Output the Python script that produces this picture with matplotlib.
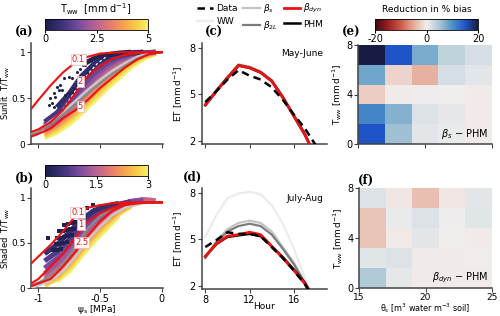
import numpy as np
import matplotlib
matplotlib.use("Agg")
import matplotlib.pyplot as plt
from matplotlib.colors import LinearSegmentedColormap, Normalize
from matplotlib.cm import ScalarMappable

plt.rcParams['font.family'] = ['DejaVu Sans']
plt.rcParams['font.size'] = 7
plt.rcParams['mathtext.fontset'] = 'dejavusans'

# ---------------- data: panels (a) and (b) ----------------
# model curves on a shared water potential grid
psi_curve = [-1.06, -1.0, -0.9, -0.8, -0.7, -0.6, -0.5, -0.4, -0.3, -0.2, -0.1, 0.0]

a_red_01 = [0.38, 0.48, 0.64, 0.78, 0.89, 0.95, 0.985, 0.995, 1.0, 1.0, 1.0, 1.0]
a_red_2 = [0.13, 0.16, 0.24, 0.37, 0.55, 0.74, 0.85, 0.93, 0.97, 0.99, 1.0, 1.0]
a_red_5 = [0.08, 0.11, 0.17, 0.28, 0.37, 0.48, 0.61, 0.72, 0.83, 0.92, 0.98, 1.0]
a_gray_light = [0.12, 0.15, 0.25, 0.35, 0.47, 0.59, 0.70, 0.80, 0.88, 0.95, 0.99, 1.0]
a_gray_dark = [0.10, 0.13, 0.22, 0.32, 0.43, 0.55, 0.66, 0.76, 0.85, 0.93, 0.98, 1.0]

b_red_01 = [0.27, 0.35, 0.48, 0.63, 0.80, 0.89, 0.92, 0.94, 0.95, 0.95, 0.95, 0.95]
b_red_1 = [0.05, 0.10, 0.24, 0.38, 0.56, 0.74, 0.83, 0.89, 0.93, 0.945, 0.95, 0.95]
b_red_25 = [0.02, 0.05, 0.10, 0.24, 0.40, 0.58, 0.74, 0.86, 0.92, 0.94, 0.95, 0.95]
b_gray_dark = [0.03, 0.06, 0.13, 0.27, 0.46, 0.66, 0.80, 0.88, 0.92, 0.94, 0.95, 0.95]
b_gray_light = [0.0, 0.03, 0.08, 0.19, 0.35, 0.53, 0.68, 0.81, 0.89, 0.93, 0.95, 0.95]

# observed T/Tww, binned by Tww (rows) on a psi grid (columns)
psi_obs = [-0.95, -0.85, -0.75, -0.65, -0.55, -0.45, -0.35, -0.25, -0.15, -0.05]
nan = np.nan

a_tww_levels = [5.0, 4.5, 4.0, 3.5, 3.0, 2.5, 2.0, 1.5, 1.0, 0.6, 0.2]
a_ratio = [
    [0.07, 0.13, 0.22, 0.34, 0.47, 0.60, 0.72, 0.84, 0.93, 0.985],
    [0.09, 0.16, 0.26, 0.38, 0.51, 0.64, 0.76, 0.87, 0.95, 0.99],
    [0.11, 0.19, 0.29, 0.41, 0.55, 0.68, 0.80, 0.90, 0.96, 0.995],
    [0.13, 0.21, 0.32, 0.45, 0.59, 0.72, 0.83, 0.92, 0.97, 1.0],
    [0.15, 0.23, 0.35, 0.49, 0.63, 0.76, 0.86, 0.94, 0.98, 1.0],
    [0.17, 0.25, 0.38, 0.53, 0.67, 0.80, 0.89, 0.95, 0.99, 1.0],
    [0.19, 0.27, 0.41, 0.57, 0.72, 0.84, 0.92, 0.97, 0.99, 1.0],
    [0.21, 0.30, 0.45, 0.62, 0.77, 0.87, 0.94, 0.98, 0.995, 1.0],
    [0.24, 0.34, 0.50, 0.68, 0.82, 0.91, 0.96, 0.985, 1.0, nan],
    [nan, 0.40, 0.55, 0.74, 0.87, 0.94, 0.98, 0.995, 1.0, nan],
    [nan, nan, nan, 0.86, 0.93, 0.97, 0.99, 1.0, nan, nan],
]
# scattered low-Tww days in (a)
a_dots_psi = [-0.790, -0.756, -0.729, -0.849, -0.823, -0.836, -0.809, -0.876, -0.863, -0.903,
              -0.890, -0.917, -0.876, -0.782, -0.756, -0.729, -0.715, -0.688, -0.661, -0.635,
              -0.607, -0.69, -0.66, -0.62, -0.58]
a_dots_r = [0.714, 0.732, 0.714, 0.623, 0.641, 0.587, 0.587, 0.551, 0.514, 0.496,
            0.442, 0.424, 0.406, 0.533, 0.551, 0.569, 0.605, 0.641, 0.677, 0.732,
            0.768, 0.78, 0.82, 0.86, 0.90]
a_white_psi = [-0.80, -0.72, -0.65, -0.58, -0.52, -0.45]
a_white_r = [0.38, 0.54, 0.68, 0.79, 0.88, 0.95]

b_tww_levels = [3.0, 2.8, 2.5, 2.2, 1.9, 1.6, 1.3, 1.0, 0.7, 0.4]
b_ratio = [
    [nan, 0.08, 0.19, 0.36, 0.52, 0.66, 0.80, nan, nan, nan],
    [0.03, 0.10, 0.22, 0.39, 0.55, 0.69, 0.82, 0.91, nan, nan],
    [0.05, 0.12, 0.25, 0.42, 0.58, 0.72, 0.84, 0.92, 0.96, nan],
    [0.07, 0.15, 0.28, 0.45, 0.61, 0.75, 0.86, 0.94, 0.97, nan],
    [0.09, 0.18, 0.32, 0.49, 0.65, 0.78, 0.88, 0.95, 0.98, 0.97],
    [0.12, 0.22, 0.36, 0.53, 0.69, 0.81, 0.90, 0.96, 0.98, 0.97],
    [0.16, 0.27, 0.41, 0.58, 0.73, 0.84, 0.91, 0.96, 0.98, nan],
    [0.22, 0.33, 0.47, 0.64, 0.78, 0.87, 0.92, 0.96, 0.97, nan],
    [0.30, 0.40, 0.54, 0.70, 0.82, 0.89, 0.93, 0.96, nan, nan],
    [0.38, 0.48, 0.62, 0.76, 0.86, 0.91, 0.94, nan, nan, nan],
]
b_dots_psi = [-0.92, -0.79, -0.76, -0.73, -0.70, -0.83, -0.80, -0.77, -0.74, -0.71,
              -0.85, -0.82, -0.79, -0.76, -0.73, -0.86, -0.83, -0.80, -0.77, -0.88,
              -0.85, -0.82, -0.61, -0.66, -0.56]
b_dots_r = [0.55, 0.70, 0.71, 0.72, 0.73, 0.63, 0.63, 0.64, 0.65, 0.66,
            0.56, 0.56, 0.57, 0.58, 0.59, 0.49, 0.49, 0.50, 0.51, 0.42,
            0.42, 0.43, 0.89, 0.84, 0.92]

# ---------------- data: panels (c) and (d) ----------------
hours = [8, 9, 10, 11, 12, 13, 14, 15, 16, 17, 18]

c_data = [4.5, 5.2, 5.95, 6.55, 6.2, 5.95, 5.45, 4.65, 3.7, 2.8, 1.7]
c_ww = [4.45, 5.3, 6.15, 6.95, 6.8, 6.5, 5.95, 4.9, 3.7, 2.5, 1.0]
c_bs = [4.4, 5.25, 6.1, 6.9, 6.75, 6.45, 5.9, 4.85, 3.65, 2.45, 0.95]
c_b2l = [4.35, 5.25, 6.1, 6.9, 6.75, 6.45, 5.9, 4.85, 3.65, 2.45, 0.95]
c_dyn = [4.3, 5.2, 6.05, 6.85, 6.7, 6.4, 5.85, 4.8, 3.6, 2.4, 0.9]
c_phm = [4.3, 5.2, 6.05, 6.85, 6.7, 6.4, 5.85, 4.8, 3.6, 2.4, 0.9]

d_data = [4.5, 4.95, 5.45, 5.35, 5.35, 5.2, 4.5, 3.8, 3.0, 2.1, 1.0]
d_ww = [5.15, 6.55, 7.65, 7.95, 8.05, 7.9, 7.2, 6.0, 4.4, 2.5, 0.6]
d_bs = [3.85, 4.9, 5.65, 6.05, 6.2, 6.05, 5.5, 4.5, 3.5, 2.2, 0.8]
d_b2l = [3.8, 4.8, 5.5, 5.85, 6.0, 5.85, 5.3, 4.4, 3.4, 2.2, 0.8]
d_dyn = [3.9, 4.7, 5.2, 5.3, 5.45, 5.3, 4.55, 3.8, 3.0, 2.15, 1.0]
d_phm = [3.9, 4.7, 5.15, 5.25, 5.35, 5.2, 4.55, 3.85, 3.05, 2.2, 1.0]

# ---------------- data: panels (e) and (f) ----------------
theta_edges = [15, 17, 19, 21, 23, 25]
tww_edges = [0, 1.6, 3.2, 4.8, 6.4, 8]
# rows bottom -> top
e_bias = [
    [15, 5.5, 1.0, 0.5, -0.3],
    [11, 7, 1.5, 0.8, -0.3],
    [-2.5, -0.3, 0.3, 0.0, -0.3],
    [8, -2, -4.5, 2, 1],
    [20, 15, 7.5, 3.5, 2],
]
f_bias = [
    [4.5, 0.8, -0.3, -0.3, -0.2],
    [1.2, 1.5, -0.2, -0.2, -0.1],
    [-3, -0.4, 1.0, -0.1, -0.2],
    [-3, 0.5, 1.5, 0.2, 1.2],
    [1.5, -0.5, -3.5, -0.5, 1.0],
]

# ---------------- styling ----------------
W, H = 500, 316
fig = plt.figure(figsize=(W / 100, H / 100), dpi=100)


def px_axes(x0, y0, x1, y1):
    return fig.add_axes([x0 / W, 1 - y1 / H, (x1 - x0) / W, (y1 - y0) / H])


thermal = LinearSegmentedColormap.from_list(
    'tww', ['#1b1c48', '#2f2c68', '#4f3a88', '#7a4c9e', '#a65b9a', '#cc6c86',
            '#ea8466', '#f6a64c', '#f7cc4a', '#f3f166'])
balance = LinearSegmentedColormap.from_list(
    'bal', ['#3c0911', '#9a1f22', '#cc5a48', '#e4ab98', '#f1eeed',
            '#a9c6d5', '#4d92c6', '#1f55cc', '#181c43'])

serif_bold = dict(family='DejaVu Serif', weight='bold', fontsize=8.5)


def style(ax):
    for s in ['top', 'right']:
        ax.spines[s].set_visible(False)
    for s in ['left', 'bottom']:
        ax.spines[s].set_color('#444444')
        ax.spines[s].set_linewidth(1.1)
    ax.tick_params(length=3, width=0.8, pad=1.5, labelsize=7, color='#444444')


def ratio_panel(ax, levels, table, norm, curves, grays, labels):
    for lev, row in zip(levels, table):
        ax.plot(psi_obs, row, color=thermal(norm(lev)), lw=3.6,
                solid_capstyle='butt', zorder=2)
    g_light, g_dark = grays
    ax.plot(psi_curve, g_light, color='#c8c8c8', lw=1.8, zorder=3)
    ax.plot(psi_curve, g_dark, color='#8a8a8a', lw=1.6, zorder=3)
    for c in curves:
        ax.plot(psi_curve, c, color='#ee1111', lw=1.5, zorder=4)
    for txt, x, y in labels:
        ax.text(x, y, txt, color='#ee1111', fontsize=6, ha='center', va='center', zorder=6,
                bbox=dict(boxstyle='square,pad=0.12', fc='white', ec='#f3b0b0', lw=0.5))
    ax.set_xlim(-1.06, 0.01)
    ax.set_xticks([-1, -0.5, 0])
    style(ax)
    ax.tick_params(axis='y', pad=1, labelsize=6.5)


# (a)
ax_a = px_axes(31, 43, 163, 144)
norm_a = Normalize(0, 5)
ratio_panel(ax_a, a_tww_levels, a_ratio, norm_a,
            [a_red_01, a_red_2, a_red_5], (a_gray_light, a_gray_dark),
            [('0.1', -0.675, 0.92), ('2', -0.66, 0.68), ('5', -0.66, 0.41)])
ax_a.scatter(a_dots_psi, a_dots_r, s=5, color=thermal(norm_a(0.2)), lw=0, zorder=3)
ax_a.plot(a_white_psi, a_white_r, color='white', lw=0.9, ls=(0, (2, 2)), zorder=3)
ax_a.set_ylim(0, 1.1)
ax_a.set_yticks([0, 0.5, 1])
ax_a.set_yticklabels(['0', '0.5', '1'])
ax_a.set_xticklabels([])
ax_a.set_ylabel('Sunlit  T/T$_{\\rm ww}$', fontsize=6)
ax_a.yaxis.set_label_coords(-0.145, 0.5)
fig.text(15 / W, 1 - 32 / H, '(a)', va='center', **serif_bold)

cax_a = px_axes(45, 19, 148, 30)
cb = fig.colorbar(ScalarMappable(norm=norm_a, cmap=thermal), cax=cax_a, orientation='horizontal')
cb.set_ticks([0, 2.5, 5])
cb.set_ticklabels(['0', '2.5', '5'])
cb.outline.set_linewidth(0.6)
cax_a.tick_params(length=2, pad=1, labelsize=7)
fig.text(96 / W, 1 - 9 / H, 'T$_{\\rm ww}$  [mm d$^{-1}$]', ha='center', va='center', fontsize=7)

# (b)
ax_b = px_axes(31, 188, 163, 288)
norm_b = Normalize(0, 3)
ratio_panel(ax_b, b_tww_levels, b_ratio, norm_b,
            [b_red_01, b_red_1, b_red_25], (b_gray_light, b_gray_dark),
            [('0.1', -0.68, 0.84), ('1', -0.655, 0.71), ('2.5', -0.65, 0.51)])
ax_b.scatter(b_dots_psi, b_dots_r, s=6, marker='s', color=thermal(norm_b(0.1)), lw=0, zorder=3)
ax_b.set_ylim(0, 1.11)
ax_b.set_yticks([0, 0.5, 1])
ax_b.set_yticklabels(['0', '0.5', '1'])
ax_b.set_xticklabels(['-1', '-0.5', '0'])
ax_b.tick_params(axis='x', pad=1)
ax_b.set_xlabel('ψ$_{\\rm s}$ [MPa]', fontsize=6.5)
ax_b.xaxis.set_label_coords(0.5, -0.155)
ax_b.set_ylabel('Shaded  T/T$_{\\rm ww}$', fontsize=6)
ax_b.yaxis.set_label_coords(-0.145, 0.5)
fig.text(15 / W, 1 - 178 / H, '(b)', va='center', **serif_bold)

cax_b = px_axes(45, 165, 148, 176)
cb = fig.colorbar(ScalarMappable(norm=norm_b, cmap=thermal), cax=cax_b, orientation='horizontal')
cb.set_ticks([0, 1.5, 3])
cb.set_ticklabels(['0', '1.5', '3'])
cb.outline.set_linewidth(0.6)
cax_b.tick_params(length=2, pad=1, labelsize=7)


# (c), (d)
def et_panel(ax, data, ww, bs, b2l, dyn, phm):
    ax.plot(hours, ww, color='#ececec', lw=1.6, label='WW', zorder=2)
    ax.plot(hours, bs, color='#c4c4c4', lw=1.6, label='$\\beta_s$', zorder=3)
    ax.plot(hours, b2l, color='#7d7d7d', lw=1.6, label='$\\beta_{2L}$', zorder=3)
    ax.plot(hours, phm, color='black', lw=1.8, label='PHM', zorder=4)
    ax.plot(hours, dyn, color='#ee1111', lw=2.0, label='$\\beta_{dyn}$', zorder=5)
    ax.plot(hours, data, color='black', lw=1.8, ls=(0, (3, 2)), label='Data', zorder=6)
    ax.set_xlim(7.7, 19.0)
    ax.set_ylim(1.8, 8.3)
    ax.set_xticks([8, 12, 16])
    ax.set_yticks([2, 5, 8])
    ax.set_ylabel('ET $\\left[\\mathrm{mm\\,d^{-1}}\\right]$', fontsize=6.5)
    ax.yaxis.set_label_coords(-0.135, 0.5)
    style(ax)


ax_c = px_axes(202, 43, 327, 144)
et_panel(ax_c, c_data, c_ww, c_bs, c_b2l, c_dyn, c_phm)
ax_c.set_xticklabels([])
ax_c.text(0.97, 0.9, 'May-June', transform=ax_c.transAxes, ha='right', va='center', fontsize=6.5)
fig.text(205 / W, 1 - 32 / H, '(c)', va='center', **serif_bold)

ax_d = px_axes(202, 188, 327, 289)
et_panel(ax_d, d_data, d_ww, d_bs, d_b2l, d_dyn, d_phm)
ax_d.tick_params(axis='x', pad=1)
ax_d.set_xlabel('Hour', fontsize=6.5)
ax_d.xaxis.set_label_coords(0.5, -0.13)
ax_d.text(0.97, 0.9, 'July-Aug', transform=ax_d.transAxes, ha='right', va='center', fontsize=6.5)
fig.text(183 / W, 1 - 177 / H, '(d)', va='center', **serif_bold)

handles, labels = ax_c.get_legend_handles_labels()
order = ['Data', 'WW', '$\\beta_s$', '$\\beta_{2L}$', '$\\beta_{dyn}$', 'PHM']
hmap = dict(zip(labels, handles))
fig.legend([hmap[k] for k in order], order, ncol=3, loc='center',
           bbox_to_anchor=(260 / W, 1 - 17 / H), frameon=False, fontsize=6.5,
           handlelength=1.8, handletextpad=0.4, columnspacing=0.6, labelspacing=0.45,
           borderpad=0.1)

# (e), (f)
norm_e = Normalize(-20, 20)


def bias_panel(ax, values, note):
    ax.pcolormesh(theta_edges, tww_edges, np.array(values), cmap=balance, norm=norm_e)
    ax.set_xlim(15, 25)
    ax.set_ylim(0, 8)
    ax.set_xticks([15, 20, 25])
    ax.set_yticks([0, 4, 8])
    ax.set_ylabel('T$_{\\rm ww}$ $\\left[\\mathrm{mm\\,d^{-1}}\\right]$', fontsize=6.5)
    ax.yaxis.set_label_coords(-0.105, 0.5)
    ax.text(0.97, 0.1, note, transform=ax.transAxes, ha='right', va='center', fontsize=7)
    style(ax)
    ax.tick_params(axis='y', pad=1)


ax_e = px_axes(358, 45, 492, 144)
bias_panel(ax_e, e_bias, '$\\beta_s$ $-$ PHM')
ax_e.set_xticklabels([])
fig.text(342 / W, 1 - 32 / H, '(e)', va='center', **serif_bold)

ax_f = px_axes(359, 188, 492, 288)
bias_panel(ax_f, f_bias, '$\\beta_{dyn}$ $-$ PHM')
ax_f.tick_params(axis='x', pad=0.5, labelsize=6.5)
ax_f.set_xlabel('θ$_{\\rm s}$ [m$^3$ water m$^{-3}$ soil]', fontsize=5.8)
ax_f.xaxis.set_label_coords(0.5, -0.135)
fig.text(358 / W, 1 - 180 / H, '(f)', va='center', **serif_bold)

cax_e = px_axes(375, 19, 478, 30)
cb = fig.colorbar(ScalarMappable(norm=norm_e, cmap=balance), cax=cax_e, orientation='horizontal')
cb.set_ticks([-20, 0, 20])
cb.set_ticklabels(['-20', '0', '20'])
cb.outline.set_linewidth(0.6)
cax_e.tick_params(length=2, pad=1, labelsize=7)
fig.text(427 / W, 1 - 9 / H, 'Reduction in % bias', ha='center', va='center', fontsize=6.5)

fig.savefig('out.png', dpi=100)
